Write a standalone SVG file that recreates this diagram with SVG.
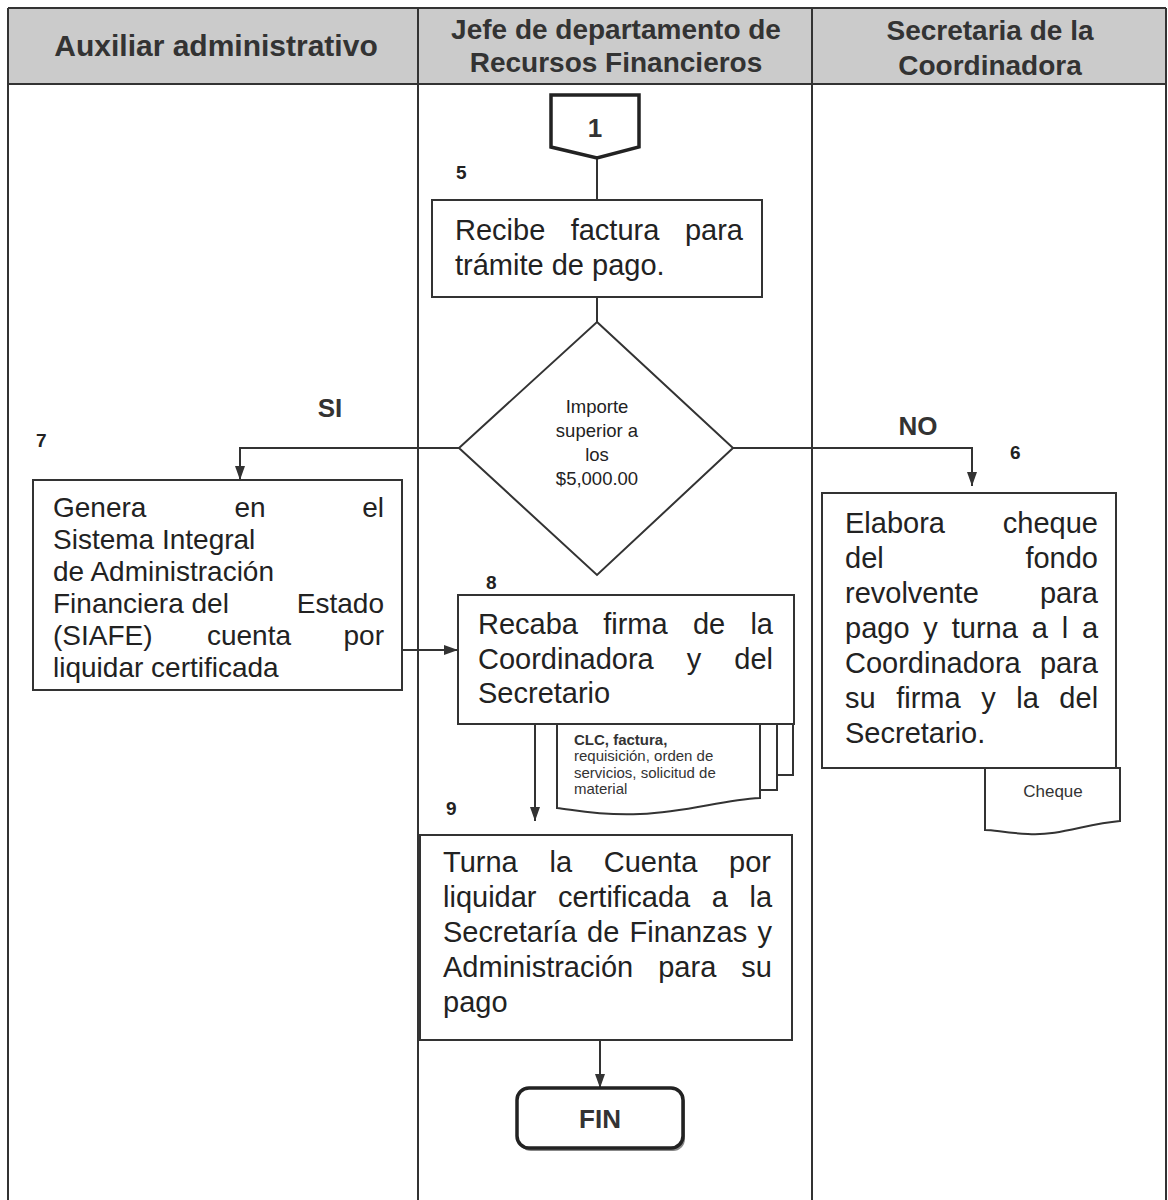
<svg xmlns="http://www.w3.org/2000/svg" width="1168" height="1200" viewBox="0 0 1168 1200">
  <style>
    .frame { fill: none; stroke: #333; stroke-width: 2; }
    .box { fill: #fff; stroke: #333; stroke-width: 2; }
    .thick { fill: #fff; stroke: #222; stroke-width: 3.5; }
    .wire { fill: none; stroke: #333; stroke-width: 2; }
    .hdr { font-family: "Liberation Sans", Arial, sans-serif; font-weight: bold; font-size: 28px; fill: #333; text-anchor: middle; }
    .txt { font-family: "Liberation Sans", Arial, sans-serif; font-size: 29px; fill: #222; }
    .txt7 { font-family: "Liberation Sans", Arial, sans-serif; font-size: 28px; fill: #222; }
    .num { font-family: "Liberation Sans", Arial, sans-serif; font-weight: bold; font-size: 19px; fill: #222; }
    .lbl { font-family: "Liberation Sans", Arial, sans-serif; font-weight: bold; font-size: 26px; fill: #333; text-anchor: middle; }
    .small { font-family: "Liberation Sans", Arial, sans-serif; font-size: 18.5px; fill: #222; text-anchor: middle; }
    .doc { font-family: "Liberation Sans", Arial, sans-serif; font-size: 15px; fill: #333; }
    .end { text-anchor: end; }
    .mid { text-anchor: middle; }
  </style>
  <defs>
    <marker id="arrow" viewBox="0 0 14 10" refX="14" refY="5" markerWidth="14" markerHeight="10" markerUnits="userSpaceOnUse" orient="auto">
      <path d="M0,0 L14,5 L0,10 z" fill="#333"/>
    </marker>
  </defs>

  <rect width="1168" height="1200" fill="#fff"/>

  <!-- swimlane header and frame -->
  <g id="lanes">
    <rect x="8" y="8" width="1158" height="76" fill="#cbcbcb"/>
    <line class="frame" x1="8" y1="8" x2="1166" y2="8"/>
    <line class="frame" x1="8" y1="84" x2="1166" y2="84"/>
    <line class="frame" x1="8" y1="8" x2="8" y2="1200"/>
    <line class="frame" x1="418" y1="8" x2="418" y2="1200"/>
    <line class="frame" x1="812" y1="8" x2="812" y2="1200"/>
    <line class="frame" x1="1166" y1="8" x2="1166" y2="1200"/>
    <text class="hdr" x="216" y="56" style="font-size:30px">Auxiliar administrativo</text>
    <text class="hdr" x="616" y="39">Jefe de departamento de</text>
    <text class="hdr" x="616" y="72">Recursos Financieros</text>
    <text class="hdr" x="990" y="40">Secretaria de la</text>
    <text class="hdr" x="990" y="75">Coordinadora</text>
  </g>

  <!-- connectors -->
  <g id="connectors">
    <line class="wire" x1="597" y1="158" x2="597" y2="200"/>
    <line class="wire" x1="597" y1="297" x2="597" y2="322"/>
    <polyline class="wire" points="459,448 240,448 240,480" marker-end="url(#arrow)"/>
    <polyline class="wire" points="733,448 972,448 972,486" marker-end="url(#arrow)"/>
    <line class="wire" x1="402" y1="650" x2="458" y2="650" marker-end="url(#arrow)"/>
    <line class="wire" x1="535" y1="724" x2="535" y2="821" marker-end="url(#arrow)"/>
    <line class="wire" x1="600" y1="1040" x2="600" y2="1088" marker-end="url(#arrow)"/>
    <text class="lbl" x="330" y="417">SI</text>
    <text class="lbl" x="918" y="435">NO</text>
  </g>

  <!-- off-page connector 1 -->
  <g id="start">
    <path class="thick" d="M551,95 L639,95 L639,147 L597,158 L551,147 z"/>
    <text class="lbl" x="595" y="137">1</text>
  </g>

  <!-- step 5 -->
  <g id="step5">
    <text class="num" x="456" y="179">5</text>
    <rect class="box" x="432" y="200" width="330" height="97"/>
    <text class="txt" x="455" y="240">Recibe</text>
    <text class="txt mid" x="615" y="240">factura</text>
    <text class="txt end" x="743" y="240">para</text>
    <text class="txt" x="455" y="275">trámite de pago.</text>
  </g>

  <!-- decision -->
  <g id="decision">
    <polygon class="box" points="597,322 733,448 597,575 459,448"/>
    <text class="small" x="597" y="413">Importe</text>
    <text class="small" x="597" y="437">superior a</text>
    <text class="small" x="597" y="461">los</text>
    <text class="small" x="597" y="485">$5,000.00</text>
  </g>

  <!-- step 7 -->
  <g id="step7">
    <text class="num" x="36" y="447">7</text>
    <rect class="box" x="33" y="480" width="369" height="210"/>
    <text class="txt7" x="53" y="517">Genera</text>
    <text class="txt7 mid" x="250" y="517">en</text>
    <text class="txt7 end" x="384" y="517">el</text>
    <text class="txt7" x="53" y="549">Sistema Integral</text>
    <text class="txt7" x="53" y="581">de Administración</text>
    <text class="txt7" x="53" y="613">Financiera del</text>
    <text class="txt7 end" x="384" y="613">Estado</text>
    <text class="txt7" x="53" y="645">(SIAFE)</text>
    <text class="txt7 mid" x="249" y="645">cuenta</text>
    <text class="txt7 end" x="384" y="645">por</text>
    <text class="txt7" x="53" y="677">liquidar certificada</text>
  </g>

  <!-- step 6 -->
  <g id="step6">
    <text class="num" x="1010" y="459">6</text>
    <rect class="box" x="822" y="493" width="294" height="275"/>
    <text class="txt" x="845" y="533">Elabora</text>
    <text class="txt end" x="1098" y="533">cheque</text>
    <text class="txt" x="845" y="568">del</text>
    <text class="txt end" x="1098" y="568">fondo</text>
    <text class="txt" x="845" y="603">revolvente</text>
    <text class="txt end" x="1098" y="603">para</text>
    <text class="txt" x="845" y="638" word-spacing="5.8">pago y turna a l a</text>
    <text class="txt" x="845" y="673">Coordinadora</text>
    <text class="txt end" x="1098" y="673">para</text>
    <text class="txt" x="845" y="708" word-spacing="12.5">su firma y la del</text>
    <text class="txt" x="845" y="743">Secretario.</text>
  </g>

  <!-- cheque document -->
  <g id="cheque">
    <path class="box" d="M985,768 L1120,768 L1120,821 C1085,824 1060,836 1028,834 C1005,833 995,830 985,830 z"/>
    <text class="doc mid" x="1053" y="797" style="font-size:17px">Cheque</text>
  </g>

  <!-- step 8 -->
  <g id="step8">
    <text class="num" x="486" y="589">8</text>
    <rect class="box" x="577" y="700" width="216" height="75"/>
    <rect class="box" x="567" y="700" width="210" height="90"/>
    <path class="box" d="M557,700 L760,700 L760,798 C720,800 690,812 640,814 C600,816 575,810 557,808 z"/>
    <rect class="box" x="458" y="595" width="336" height="129"/>
    <text class="txt" x="478" y="634" word-spacing="17.2">Recaba firma de la</text>
    <text class="txt" x="478" y="669" word-spacing="25">Coordinadora y del</text>
    <text class="txt" x="478" y="703">Secretario</text>
    <text class="doc" x="574" y="745" font-weight="bold">CLC, factura,</text>
    <text class="doc" x="574" y="761">requisición, orden de</text>
    <text class="doc" x="574" y="778">servicios, solicitud de</text>
    <text class="doc" x="574" y="794">material</text>
  </g>

  <!-- step 9 -->
  <g id="step9">
    <text class="num" x="446" y="815">9</text>
    <rect class="box" x="420" y="835" width="372" height="205"/>
    <text class="txt" x="443" y="872" word-spacing="23.7">Turna la Cuenta por</text>
    <text class="txt" x="443" y="907" word-spacing="13.5">liquidar certificada a la</text>
    <text class="txt" x="443" y="942" word-spacing="2.2">Secretaría de Finanzas y</text>
    <text class="txt" x="443" y="977" word-spacing="17">Administración para su</text>
    <text class="txt" x="443" y="1012">pago</text>
  </g>

  <!-- end terminator -->
  <g id="end">
    <rect x="519" y="1091" width="166" height="60" rx="12" ry="12" fill="#888"/>
    <rect class="thick" x="517" y="1088" width="166" height="60" rx="12" ry="12"/>
    <text class="lbl" x="600" y="1128">FIN</text>
  </g>
</svg>
